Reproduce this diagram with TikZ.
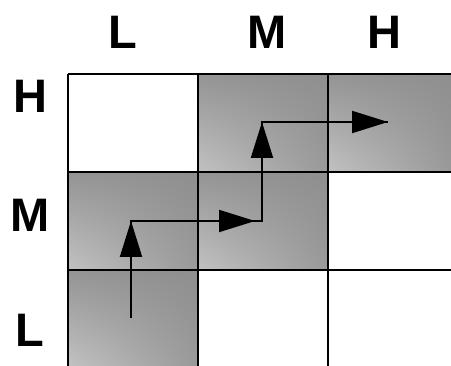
\documentclass[tikz,border=0pt]{standalone}
\usepackage{fontspec}
\setmainfont{Liberation Sans}
\usetikzlibrary{arrows.meta,shadings}
\begin{document}
\begin{tikzpicture}[x=1pt,y=-1pt,
  lbl/.style={font=\bfseries\fontsize{47}{47}\selectfont, inner sep=0pt, anchor=center},
  cellshade/.style={upper left=black!42, upper right=black!44, lower right=black!40, lower left=black!24},
  gridline/.style={line width=2.4pt},
  pathline/.style={line width=2pt},
  bigarrow/.style={line width=2pt, -{Triangle[length=36pt,width=22pt]}}]
\useasboundingbox (0,0) rectangle (451,366);
% shaded cells
\shade[cellshade] (198,74) rectangle (328,172);
\shade[cellshade] (328,74) rectangle (451,172);
\shade[cellshade] (68,172) rectangle (198,270);
\shade[cellshade] (198,172) rectangle (328,270);
\shade[cellshade] (68,270) rectangle (198,366);
% grid lines
\draw[gridline] (68,74) -- (451,74);
\draw[gridline] (68,172) -- (451,172);
\draw[gridline] (68,270) -- (451,270);
\draw[gridline] (68,74) -- (68,366);
\draw[gridline] (198,74) -- (198,366);
\draw[gridline] (328,74) -- (328,366);
% labels
\node[lbl] (cL) at (123,32) {L};
\node[lbl] (cM) at (267,32) {M};
\node[lbl] (cH) at (384,32) {H};
\node[lbl] (rH) at (30,96) {H};
\node[lbl] (rM) at (30,215) {M};
\node[lbl] (rL) at (30,330) {L};
% path
\coordinate (p0) at (131,318);
\coordinate (p1) at (131,221);
\coordinate (p2) at (262,221);
\coordinate (p3) at (262,122);
\coordinate (p4) at (388,122);
\coordinate (t2) at (255,221);
\draw[pathline] (p0) -- (p1) -- (p2) -- (p3) -- (p4);
\draw[bigarrow] (p0) -- (p1);
\draw[bigarrow] (p1) -- (t2);
\draw[bigarrow] (p2) -- (p3);
\draw[bigarrow] (p3) -- (p4);
\end{tikzpicture}
\end{document}
